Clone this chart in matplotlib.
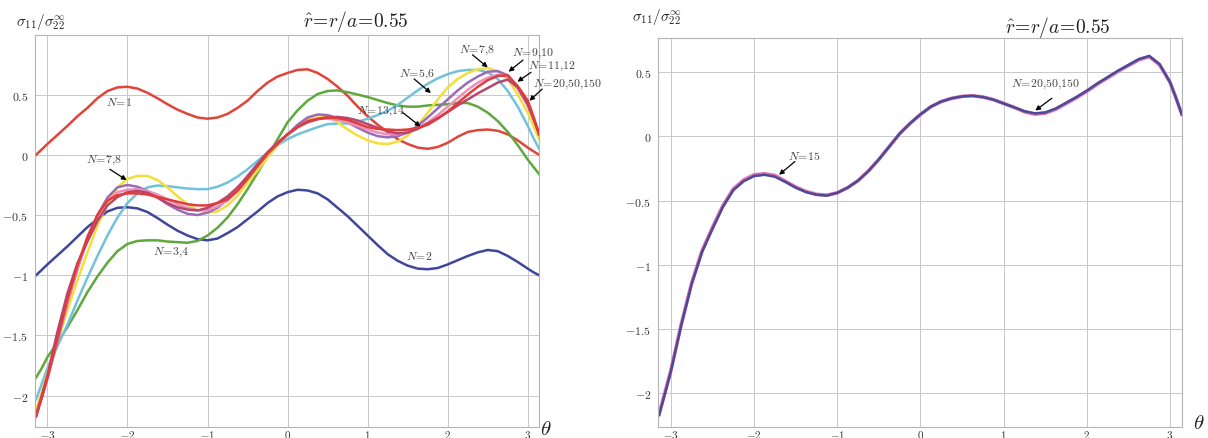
import numpy as np
import matplotlib
matplotlib.use("Agg")
import matplotlib.pyplot as plt

plt.rcParams["mathtext.fontset"] = "cm"
plt.rcParams["font.family"] = ["DejaVu Serif"]

# Polar angle samples
theta = [-np.pi, -3.07, -3.0, -2.875, -2.75, -2.625, -2.5, -2.375, -2.25, -2.125,
         -2.0, -1.875, -1.75, -1.625, -1.5, -1.375, -1.25, -1.125, -1.0, -0.875,
         -0.75, -0.625, -0.5, -0.375, -0.25, -0.125, 0.0, 0.125, 0.25, 0.375,
         0.5, 0.625, 0.75, 0.875, 1.0, 1.125, 1.25, 1.375, 1.5, 1.625,
         1.75, 1.875, 2.0, 2.125, 2.25, 2.375, 2.5, 2.625, 2.75, 2.875,
         3.0, 3.07, np.pi]

# sigma_11 / sigma_22^inf at r/a = 0.55 for increasing truncation order N
n1 = [0.0, 0.045, 0.09, 0.165, 0.24, 0.32, 0.39, 0.47, 0.53, 0.56,
      0.565, 0.55, 0.515, 0.47, 0.42, 0.375, 0.34, 0.31, 0.30, 0.31,
      0.34, 0.39, 0.45, 0.53, 0.60, 0.65, 0.68, 0.705, 0.71, 0.68,
      0.63, 0.565, 0.49, 0.40, 0.32, 0.25, 0.19, 0.13, 0.09, 0.06,
      0.05, 0.065, 0.10, 0.15, 0.19, 0.205, 0.21, 0.20, 0.17, 0.12,
      0.06, 0.03, 0.0]
n2 = [-1.0, -0.955, -0.91, -0.835, -0.76, -0.68, -0.60, -0.535, -0.47, -0.44,
      -0.435, -0.445, -0.475, -0.525, -0.58, -0.63, -0.67, -0.70, -0.71, -0.695,
      -0.65, -0.60, -0.535, -0.47, -0.40, -0.345, -0.31, -0.29, -0.296, -0.32,
      -0.37, -0.44, -0.51, -0.59, -0.67, -0.75, -0.825, -0.88, -0.92, -0.945,
      -0.95, -0.94, -0.91, -0.875, -0.84, -0.81, -0.79, -0.80, -0.84, -0.89,
      -0.945, -0.975, -1.0]
n34 = [-1.85, -1.77, -1.68, -1.56, -1.43, -1.29, -1.14, -1.01, -0.895, -0.80,
       -0.74, -0.715, -0.71, -0.71, -0.72, -0.725, -0.73, -0.715, -0.67, -0.605,
       -0.52, -0.41, -0.285, -0.15, -0.01, 0.13, 0.27, 0.37, 0.45, 0.505,
       0.53, 0.535, 0.52, 0.50, 0.48, 0.455, 0.43, 0.41, 0.40, 0.40,
       0.41, 0.415, 0.42, 0.43, 0.43, 0.40, 0.35, 0.28, 0.19, 0.08,
       -0.04, -0.10, -0.16]
n56 = [-2.03, -1.90, -1.77, -1.59, -1.41, -1.21, -1.02, -0.84, -0.67, -0.52,
       -0.40, -0.32, -0.27, -0.255, -0.26, -0.27, -0.28, -0.285, -0.285, -0.265,
       -0.23, -0.18, -0.12, -0.05, 0.02, 0.08, 0.13, 0.17, 0.20, 0.23,
       0.255, 0.26, 0.26, 0.275, 0.30, 0.33, 0.365, 0.415, 0.475, 0.535,
       0.59, 0.635, 0.67, 0.695, 0.705, 0.705, 0.685, 0.63, 0.53, 0.40,
       0.24, 0.14, 0.05]
n78 = [-2.11, -1.97, -1.81, -1.55, -1.29, -1.04, -0.81, -0.59, -0.40, -0.27,
       -0.20, -0.175, -0.175, -0.21, -0.27, -0.345, -0.41, -0.46, -0.48, -0.47,
       -0.42, -0.34, -0.23, -0.13, -0.02, 0.08, 0.17, 0.245, 0.30, 0.33,
       0.32, 0.27, 0.21, 0.16, 0.12, 0.095, 0.09, 0.11, 0.16, 0.245,
       0.35, 0.46, 0.56, 0.63, 0.68, 0.71, 0.72, 0.695, 0.63, 0.50,
       0.35, 0.24, 0.13]
n910 = [-2.17, -2.02, -1.86, -1.55, -1.23, -0.95, -0.70, -0.50, -0.355, -0.27,
        -0.25, -0.265, -0.30, -0.355, -0.41, -0.455, -0.49, -0.50, -0.48, -0.44,
        -0.37, -0.28, -0.175, -0.075, 0.02, 0.10, 0.17, 0.25, 0.31, 0.335,
        0.33, 0.305, 0.27, 0.225, 0.185, 0.155, 0.145, 0.155, 0.185, 0.24,
        0.31, 0.385, 0.46, 0.535, 0.60, 0.65, 0.69, 0.695, 0.66, 0.555,
        0.41, 0.30, 0.185]
n1112 = [-2.15, -2.0, -1.85, -1.54, -1.22, -0.94, -0.70, -0.51, -0.38, -0.31,
         -0.29, -0.285, -0.30, -0.33, -0.37, -0.41, -0.44, -0.46, -0.46, -0.43,
         -0.38, -0.29, -0.19, -0.085, 0.02, 0.10, 0.17, 0.23, 0.28, 0.30,
         0.30, 0.29, 0.27, 0.24, 0.21, 0.185, 0.17, 0.17, 0.19, 0.22,
         0.27, 0.33, 0.40, 0.47, 0.54, 0.60, 0.64, 0.665, 0.65, 0.55,
         0.42, 0.30, 0.17]
n1314 = [-2.17, -2.01, -1.85, -1.53, -1.20, -0.92, -0.68, -0.50, -0.38, -0.335,
         -0.32, -0.32, -0.33, -0.35, -0.37, -0.39, -0.41, -0.42, -0.42, -0.40,
         -0.37, -0.30, -0.20, -0.095, 0.01, 0.09, 0.17, 0.23, 0.28, 0.30,
         0.31, 0.305, 0.29, 0.26, 0.23, 0.215, 0.21, 0.205, 0.21, 0.225,
         0.25, 0.30, 0.36, 0.43, 0.50, 0.565, 0.62, 0.655, 0.66, 0.57,
         0.45, 0.32, 0.17]
n15 = [-2.16, -1.99, -1.82, -1.46, -1.14, -0.89, -0.71, -0.54, -0.41, -0.34,
       -0.30, -0.292, -0.305, -0.35, -0.395, -0.43, -0.452, -0.458, -0.44, -0.40,
       -0.345, -0.27, -0.18, -0.08, 0.02, 0.10, 0.17, 0.23, 0.27, 0.295,
       0.31, 0.315, 0.305, 0.285, 0.255, 0.225, 0.19, 0.172, 0.18, 0.21,
       0.255, 0.30, 0.35, 0.405, 0.455, 0.505, 0.55, 0.595, 0.62, 0.555,
       0.42, 0.30, 0.17]
n_conv = [-2.17, -2.0, -1.83, -1.47, -1.15, -0.90, -0.72, -0.55, -0.42, -0.35,
          -0.31, -0.30, -0.315, -0.355, -0.40, -0.435, -0.455, -0.462, -0.44, -0.40,
          -0.345, -0.27, -0.18, -0.08, 0.02, 0.10, 0.17, 0.23, 0.27, 0.295,
          0.31, 0.315, 0.305, 0.285, 0.255, 0.225, 0.195, 0.178, 0.185, 0.215,
          0.26, 0.305, 0.355, 0.41, 0.46, 0.51, 0.555, 0.60, 0.625, 0.56,
          0.42, 0.30, 0.17]

left_series = [
    (n1, "#e0453a"), (n2, "#40469a"), (n34, "#5fa83e"), (n56, "#72c2dc"),
    (n78, "#f3de3a"), (n910, "#9a6bb8"), (n1112, "#ec8fb8"),
    (n_conv, "#b8456e"), (n1314, "#e03c3c"),
]

xticks = [-3, -2, -1, 0, 1, 2, 3]
yticks = [-2, -1.5, -1, -0.5, 0, 0.5]
ytick_text = ["$-2$", "$-1.5$", "$-1$", "$-0.5$", "$0$", "$0.5$"]

W, H = 1208, 439
fig = plt.figure(figsize=(W / 100, H / 100), dpi=100)

def frac_box(x0, y0, x1, y1):
    return [x0 / W, 1 - y1 / H, (x1 - x0) / W, (y1 - y0) / H]

axL = fig.add_axes(frac_box(35, 36, 539, 428))
axR = fig.add_axes(frac_box(658, 39.3, 1181.7, 428))

def style(ax, ylim):
    ax.set_xlim(-3.155, 3.14)
    ax.set_ylim(*ylim)
    ax.set_xticks(xticks)
    ax.set_xticklabels([f"${v}$" for v in xticks])
    ax.set_yticks(yticks)
    ax.set_yticklabels(ytick_text)
    ax.tick_params(length=0, labelsize=8.5, colors="#333333")
    ax.tick_params(axis="x", pad=0.5, labelsize=8)
    ax.tick_params(axis="y", pad=5)
    ax.grid(True, color="#c8c8c8", lw=0.7)
    ax.set_axisbelow(True)
    for s in ax.spines.values():
        s.set_color("#b4b4b4")
        s.set_linewidth(0.8)

style(axL, (-2.26, 0.995))
style(axR, (-2.262, 0.762))

for vals, col in left_series:
    axL.plot(theta, vals, color=col, lw=1.8, solid_joinstyle="round")

axR.plot(theta, n15, color="#e070b0", lw=2.6, solid_joinstyle="round")
axR.plot(theta, n_conv, color="#4a4b96", lw=1.8, solid_joinstyle="round")

tkw = dict(fontsize=8.5, color="#444444", ha="center", va="center", clip_on=False)
akw = dict(arrowstyle="-|>", color="black", lw=0.9, mutation_scale=7,
           shrinkA=0, shrinkB=0)

def label(ax, txt, pos, tail=None, tip=None):
    ax.text(pos[0], pos[1], txt, **tkw)
    if tail is not None:
        ax.annotate("", xy=tip, xytext=tail, arrowprops=akw, annotation_clip=False)

label(axL, r"$N\!=\!1$", (-2.1, 0.44))
label(axL, r"$N\!=\!7{,}8$", (-2.3, -0.04), (-2.22, -0.12), (-2.01, -0.21))
label(axL, r"$N\!=\!3{,}4$", (-1.46, -0.80))
label(axL, r"$N\!=\!2$", (1.64, -0.84))
label(axL, r"$N\!=\!5{,}6$", (1.62, 0.68), (1.58, 0.63), (1.79, 0.513))
label(axL, r"$N\!=\!13{,}14$", (1.17, 0.37), (1.44, 0.35), (1.66, 0.235))
label(axL, r"$N\!=\!7{,}8$", (2.36, 0.875), (2.31, 0.83), (2.50, 0.726))
label(axL, r"$N\!=\!9{,}10$", (3.07, 0.855), (2.94, 0.787), (2.76, 0.69))
label(axL, r"$N\!=\!11{,}12$", (3.30, 0.74), (3.04, 0.685), (2.87, 0.607))
label(axL, r"$N\!=\!20{,}50{,}150$", (3.49, 0.59), (3.18, 0.546), (3.02, 0.449))

label(axR, r"$N\!=\!15$", (-1.40, -0.15), (-1.51, -0.197), (-1.70, -0.30))
label(axR, r"$N\!=\!20{,}50{,}150$", (1.50, 0.408), (1.58, 0.296), (1.38, 0.20))

# Axis captions
ylab = r"$\sigma_{11}/\sigma_{22}^{\infty}$"
fig.text(41 / W, 1 - 22 / H, ylab, fontsize=11, ha="center", va="center", color="#222222")
fig.text(657 / W, 1 - 17 / H, ylab, fontsize=11, ha="center", va="center", color="#222222")
title = r"$\hat{r}\!=\!r/a\!=\!0.55$"
fig.text(356 / W, 1 - 21 / H, title, fontsize=14, ha="center", va="center", color="#222222")
fig.text(1058 / W, 1 - 27 / H, title, fontsize=14, ha="center", va="center", color="#222222")
fig.text(546 / W, 1 - 430 / H, r"$\theta$", fontsize=15, ha="center", va="center", color="#222222")
fig.text(1199 / W, 1 - 424 / H, r"$\theta$", fontsize=15, ha="center", va="center", color="#222222")

fig.savefig("out.png", dpi=100, facecolor="white")
